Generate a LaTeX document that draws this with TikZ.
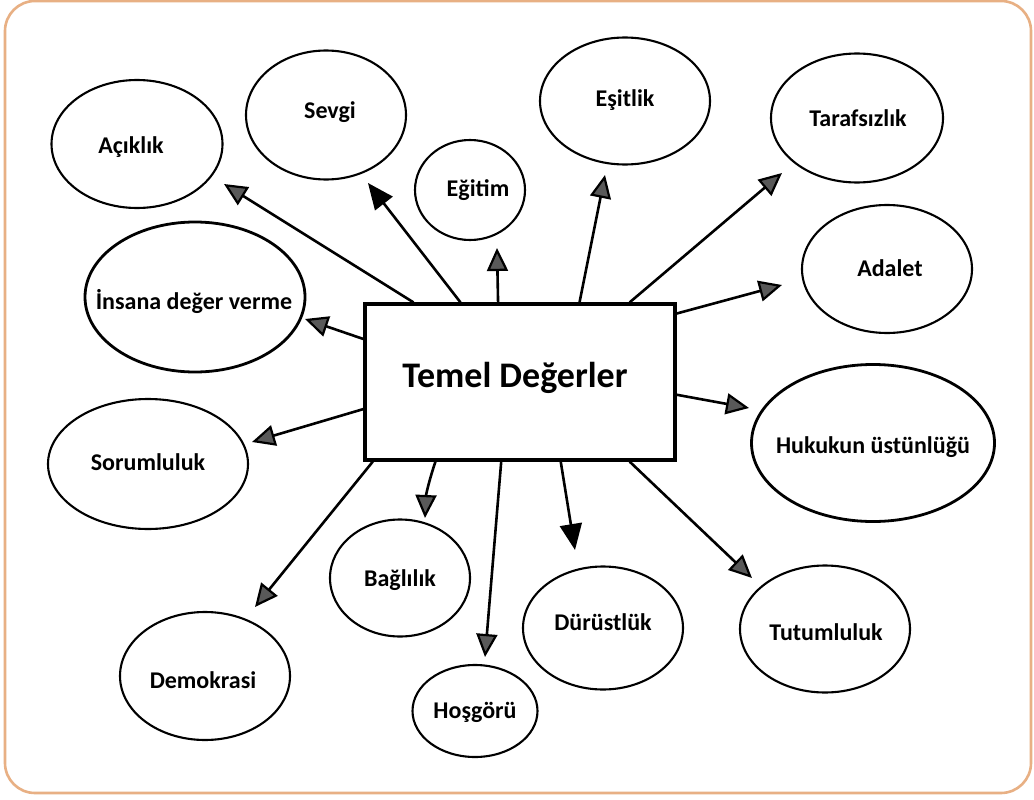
\documentclass[tikz,border=0pt]{standalone}
\usepackage{fontspec}
\setmainfont{Carlito}
\usetikzlibrary{arrows.meta,shapes.geometric,calc}
\definecolor{frameorange}{HTML}{E8B084}
\tikzset{
  bubble/.style={draw=black, line width=2.1pt, ellipse, inner sep=0pt},
  thickbubble/.style={bubble, line width=2.8pt},
  bubbletext/.style={inner sep=0pt, font=\bfseries\fontsize{24}{26}\selectfont},
  hatcharrow/.style={draw=black, line width=2.6pt,
                 -{Triangle[length=23pt,width=21pt,fill=black!65,line width=2.2pt]}},
  solidarrow/.style={draw=black, line width=2.6pt,
                 -{Triangle[length=26pt,width=22pt]}},
  centerbox/.style={draw=black, line width=3.2pt, minimum width=310pt, minimum height=156pt,
                 inner sep=0pt}
}
\begin{document}
\begin{tikzpicture}[x=1pt,y=-1pt]
\useasboundingbox (0,0) rectangle (1034,800);
\fill[white] (0,0) rectangle (1034,800);
\draw[frameorange, line width=2.6pt, rounded corners=30pt] (5,1) rectangle (1031,793);

% central box
\node[centerbox] (tv) at (520,382) {};
\node[font=\bfseries\fontsize{36}{40}\selectfont] (tvt) at (515,378) {Temel Değerler};

% bubbles
\node[bubble, minimum width=171pt, minimum height=128pt] (acik) at (137,144) {};
\node[bubble, minimum width=160pt, minimum height=129pt] (sevgi) at (326,115) {};
\node[bubble, minimum width=110pt, minimum height=100pt] (egitim) at (470,190) {};
\node[bubble, minimum width=170pt, minimum height=127pt] (esit) at (625,101) {};
\node[bubble, minimum width=172pt, minimum height=129pt] (taraf) at (857,118) {};
\node[bubble, minimum width=170pt, minimum height=128pt] (adalet) at (887,269) {};
\node[thickbubble, minimum width=220pt, minimum height=150pt] (insana) at (195,297) {};
\node[thickbubble, minimum width=243pt, minimum height=157pt] (hukuk) at (873,443) {};
\node[bubble, minimum width=200pt, minimum height=130pt] (sorum) at (148,464) {};
\node[bubble, minimum width=140pt, minimum height=117pt] (bagli) at (400,578) {};
\node[bubble, minimum width=160pt, minimum height=123pt] (durust) at (603,628) {};
\node[bubble, minimum width=170pt, minimum height=127pt] (tutum) at (825,629) {};
\node[bubble, minimum width=170pt, minimum height=128pt] (demo) at (205,676) {};
\node[bubble, minimum width=125pt, minimum height=92pt] (hosg) at (475,711) {};

% bubble texts
\node[bubbletext] (acikt) at (131,147) {Açıklık};
\node[bubbletext] (sevgit) at (330,112) {Sevgi};
\node[bubbletext] (egitimt) at (478,190) {Eğitim};
\node[bubbletext] (esitt) at (625,100) {Eşitlik};
\node[bubbletext] (taraft) at (858,118) {Tarafsızlık};
\node[bubbletext] (adalett) at (890,268) {Adalet};
\node[bubbletext] (insanat) at (194,301) {İnsana değer verme};
\node[bubbletext] (hukukt) at (873,447) {Hukukun üstünlüğü};
\node[bubbletext] (sorumt) at (148,462) {Sorumluluk};
\node[bubbletext] (baglit) at (400,580) {Bağlılık};
\node[bubbletext] (durustt) at (603,622) {Dürüstlük};
\node[bubbletext] (tutumt) at (826,632) {Tutumluluk};
\node[bubbletext] (demot) at (203,680) {Demokrasi};
\node[bubbletext] (hosgt) at (475,712) {Hoşgörü};

% arrow tips (free ends)
\coordinate (t1) at (224,184);
\coordinate (t2) at (368,183);
\coordinate (t3) at (497,248);
\coordinate (t4) at (605,175);
\coordinate (t5) at (782,173);
\coordinate (t6) at (782,285);
\coordinate (t7) at (305,319);
\coordinate (t8) at (749,408);
\coordinate (t9) at (252,442);
\coordinate (t10) at (255,607);
\coordinate (t11) at (425,518);
\coordinate (t12) at (485,657);
\coordinate (t13) at (575,550);
\coordinate (t14) at (752,578);

% connectors
\draw[hatcharrow] ($(tv.north west)!0.16!(tv.north east)$) -- (t1);
\draw[solidarrow] ($(tv.north west)!0.31!(tv.north east)$) -- (t2);
\draw[hatcharrow] ($(tv.north west)!0.43!(tv.north east)$) -- (t3);
\draw[hatcharrow] ($(tv.north west)!0.69!(tv.north east)$) -- (t4);
\draw[hatcharrow] ($(tv.north west)!0.85!(tv.north east)$) -- (t5);
\draw[hatcharrow] ($(tv.north east)!0.07!(tv.south east)$) -- (t6);
\draw[hatcharrow] ($(tv.north west)!0.23!(tv.south west)$) -- (t7);
\draw[hatcharrow] ($(tv.north east)!0.58!(tv.south east)$) -- (t8);
\draw[hatcharrow] ($(tv.north west)!0.67!(tv.south west)$) -- (t9);
\draw[hatcharrow] ($(tv.south west)!0.03!(tv.south east)$) -- (t10);
\draw[hatcharrow] ($(tv.south west)!0.23!(tv.south east)$) to[bend right=8] (t11);
\draw[hatcharrow] ($(tv.south west)!0.44!(tv.south east)$) -- (t12);
\draw[solidarrow] ($(tv.south west)!0.63!(tv.south east)$) -- (t13);
\draw[hatcharrow] ($(tv.south west)!0.85!(tv.south east)$) -- (t14);
\end{tikzpicture}
\end{document}
